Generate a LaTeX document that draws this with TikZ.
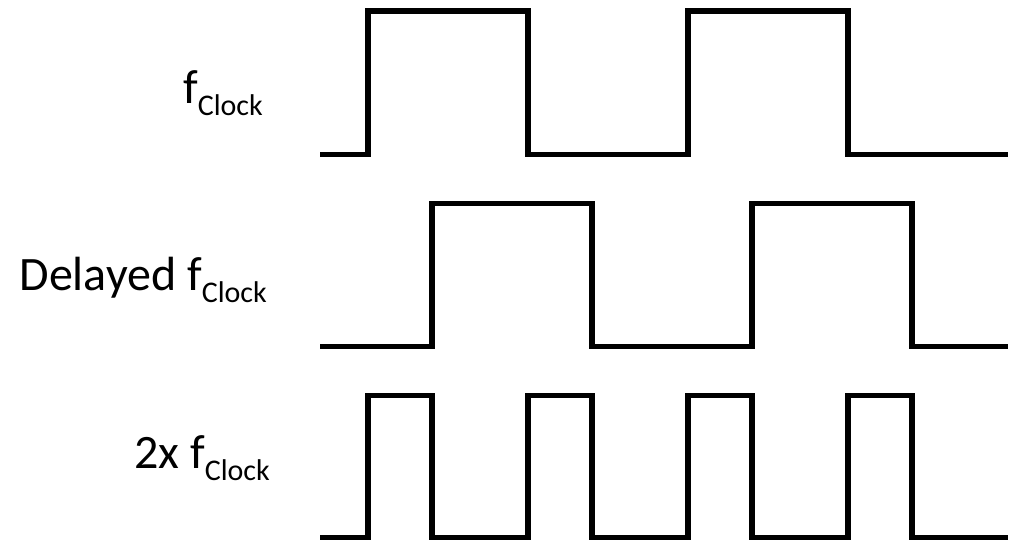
\documentclass[tikz,border=0pt]{standalone}
\usepackage{fontspec}
\setmainfont{Carlito}
\newcommand{\fclk}{f\raisebox{-12pt}{\fontsize{30}{30}\selectfont Clock}}
\begin{document}
\begin{tikzpicture}[x=1pt,y=-1pt,
  wave/.style={line width=5.5pt, line join=miter, black},
  lbl/.style={anchor=base east, inner sep=0pt, font=\fontsize{48}{52}\selectfont}]
\useasboundingbox (0,0) rectangle (1010,542);
% labels
\node[lbl] (l1) at (263,103) {\fclk};
\node[lbl] (l2) at (267,290) {Delayed \fclk};
\node[lbl] (l3) at (270,468) {2x \fclk};
% row 1: f_Clock
\draw[wave] (320,154.5) -- (368,154.5) -- (368,11) -- (528,11) -- (528,154.5)
  -- (688,154.5) -- (688,11) -- (848,11) -- (848,154.5) -- (1008,154.5);
% row 2: delayed
\draw[wave] (320,346.5) -- (432,346.5) -- (432,203.5) -- (592,203.5) -- (592,346.5)
  -- (752,346.5) -- (752,203.5) -- (912,203.5) -- (912,346.5) -- (1008,346.5);
% row 3: 2x
\draw[wave] (320,537.5) -- (368,537.5) -- (368,395.5) -- (432,395.5) -- (432,537.5)
  -- (528,537.5) -- (528,395.5) -- (592,395.5) -- (592,537.5)
  -- (688,537.5) -- (688,395.5) -- (752,395.5) -- (752,537.5)
  -- (848,537.5) -- (848,395.5) -- (912,395.5) -- (912,537.5) -- (1008,537.5);
\end{tikzpicture}
\end{document}
